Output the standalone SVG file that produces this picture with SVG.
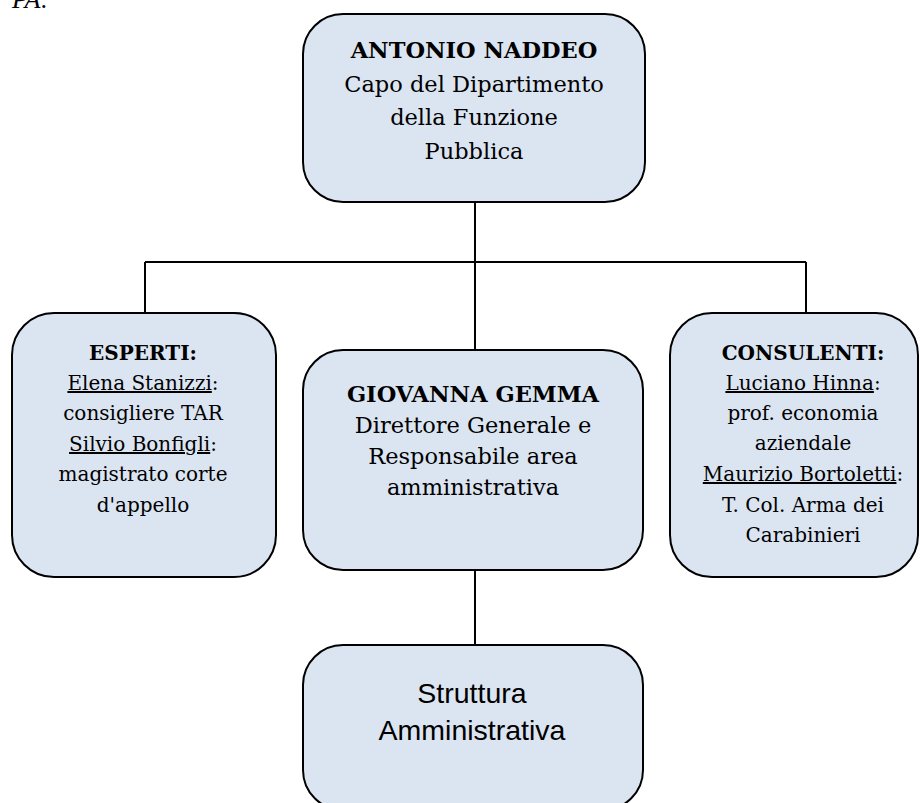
<svg xmlns="http://www.w3.org/2000/svg" width="920" height="803" viewBox="0 0 920 803">
  <style>
    .box { fill: #dbe5f1; stroke: #000; stroke-width: 2; }
    .link { fill: none; stroke: #000; stroke-width: 2; }
    .t { font-family: "DejaVu Serif", "Liberation Serif", serif; fill: #000; text-anchor: middle; }
    .big { font-size: 22.5px; }
    .small { font-size: 20px; }
    .head { font-weight: bold; }
    .u { text-decoration: underline; }
    .sans { font-family: "Liberation Sans", Arial, sans-serif; font-size: 28.5px; fill: #000; text-anchor: middle; }
  </style>

  <!-- caption fragment at top left, running off the page edge -->
  <text x="12" y="8" font-family="Liberation Serif, serif" font-style="italic" font-size="26px">PA:</text>

  <!-- connectors -->
  <g id="connectors">
    <path class="link" d="M475 202 V262"/>
    <path class="link" d="M145 262 H806"/>
    <path class="link" d="M145 262 V313"/>
    <path class="link" d="M806 262 V313"/>
    <path class="link" d="M475 262 V350"/>
    <path class="link" d="M475 570 V645"/>
  </g>

  <g id="naddeo">
    <rect class="box" x="303" y="14" width="342" height="188" rx="40" ry="40"/>
    <text class="t big head" x="474" y="58">ANTONIO NADDEO</text>
    <text class="t big" x="474" y="92">Capo del Dipartimento</text>
    <text class="t big" x="474" y="125">della Funzione</text>
    <text class="t big" x="474" y="159">Pubblica</text>
  </g>

  <g id="esperti">
    <rect class="box" x="12" y="313" width="264" height="264" rx="42" ry="42"/>
    <text class="t small head" x="143" y="360">ESPERTI:</text>
    <text class="t small" x="143" y="390"><tspan class="u">Elena Stanizzi</tspan>:</text>
    <text class="t small" x="143" y="420">consigliere TAR</text>
    <text class="t small" x="143" y="451"><tspan class="u">Silvio Bonfigli</tspan>:</text>
    <text class="t small" x="143" y="481">magistrato corte</text>
    <text class="t small" x="143" y="512">d'appello</text>
  </g>

  <g id="gemma">
    <rect class="box" x="303" y="350" width="340" height="220" rx="40" ry="40"/>
    <text class="t big head" x="473" y="402">GIOVANNA GEMMA</text>
    <text class="t big" x="473" y="433">Direttore Generale e</text>
    <text class="t big" x="473" y="464">Responsabile area</text>
    <text class="t big" x="473" y="495">amministrativa</text>
  </g>

  <g id="consulenti">
    <rect class="box" x="670" y="313" width="248" height="264" rx="42" ry="42"/>
    <text class="t small head" x="803" y="360">CONSULENTI:</text>
    <text class="t small" x="803" y="390"><tspan class="u">Luciano Hinna</tspan>:</text>
    <text class="t small" x="803" y="420">prof. economia</text>
    <text class="t small" x="803" y="450">aziendale</text>
    <text class="t small" x="803" y="481"><tspan class="u">Maurizio Bortoletti</tspan>:</text>
    <text class="t small" x="803" y="512">T. Col. Arma dei</text>
    <text class="t small" x="803" y="542">Carabinieri</text>
  </g>

  <g id="struttura">
    <rect class="box" x="303" y="645" width="340" height="165" rx="40" ry="40"/>
    <text class="sans" x="472" y="703">Struttura</text>
    <text class="sans" x="472" y="740">Amministrativa</text>
  </g>
</svg>
